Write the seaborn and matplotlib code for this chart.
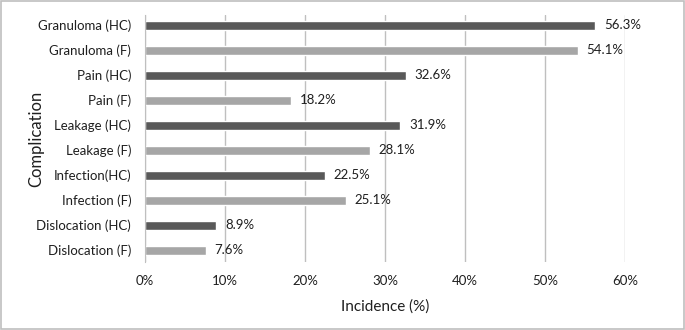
import seaborn as sns
import pandas as pd
from matplotlib import pyplot as plt
from matplotlib.patches import Rectangle

# complications, top to bottom as shown
complications = ["Granuloma (HC)", "Granuloma (F)", "Pain (HC)", "Pain (F)",
                 "Leakage (HC)", "Leakage (F)", "Infection(HC)", "Infection (F)",
                 "Dislocation (HC)", "Dislocation (F)"]
incidence = [56.3, 54.1, 32.6, 18.2, 31.9, 28.1, 22.5, 25.1, 8.9, 7.6]
group = ["HC", "F", "HC", "F", "HC", "F", "HC", "F", "HC", "F"]
xticks = [0, 10, 20, 30, 40, 50, 60]

df = pd.DataFrame({"Complication": complications, "Incidence": incidence, "Group": group})

sns.set_style("white")
plt.rcParams["font.family"] = ["Lato", "DejaVu Sans"]
txt = "#1f1f1f"

fig = plt.figure(figsize=(6.85, 3.3), dpi=100)
ax = fig.add_axes([0.2117, 0.206, 0.7007, 0.7485])

sns.barplot(data=df, y="Complication", x="Incidence", hue="Group",
            palette={"HC": "#595959", "F": "#a6a6a6"}, order=complications,
            dodge=False, width=0.36, legend=False, ax=ax)

# value labels
for i, v in enumerate(incidence):
    ax.text(v + 1.1, i, f"{v}%", va="center", ha="left", fontsize=9.5, color=txt)

ax.set_xlim(0, 60)
ax.set_ylim(9.48, -0.4)
ax.set_xticks(xticks)
ax.set_xticklabels([f"{t}%" for t in xticks], fontsize=9.5, color=txt)
ax.tick_params(axis="y", labelsize=9.5, labelcolor=txt, length=0, pad=10)
ax.tick_params(axis="x", length=0, pad=9)
ax.xaxis.grid(True, color="#bfbfbf", linewidth=1)
ax.set_axisbelow(True)
for s in ["top", "right", "bottom"]:
    ax.spines[s].set_visible(False)
ax.spines["left"].set_color("#bfbfbf")
ax.set_xlabel("Incidence (%)", fontsize=11, color=txt, labelpad=9)
ax.set_ylabel("Complication", fontsize=12, color=txt, labelpad=-6)

fig.patches.append(Rectangle((0.002, 0.003), 0.996, 0.994, transform=fig.transFigure,
                             fill=False, edgecolor="#bfbfbf", linewidth=1.2))

fig.savefig("out.png", dpi=100)
